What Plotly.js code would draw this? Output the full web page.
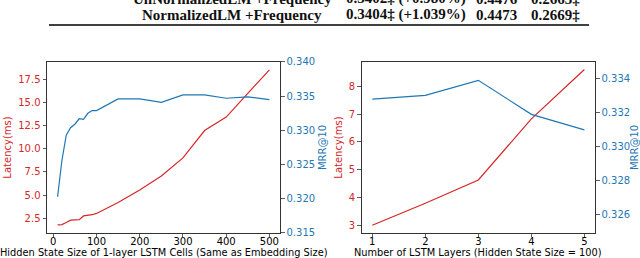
<!DOCTYPE html>
<html>
<head>
<meta charset="utf-8">
<script src="https://cdn.plot.ly/plotly-3.0.1.min.js"></script>
<style>html,body{margin:0;padding:0;background:#fff;}#chart{width:640px;height:258px;}</style>
</head>
<body>
<div id="chart"></div>
<script>
// Left panel: hidden state size
const hiddenSize = [10, 20, 30, 40, 50, 60, 70, 80, 90, 100, 150, 200, 250, 300, 350, 400, 450, 500];
const latencyHidden = [1.78, 1.82, 2.05, 2.3, 2.33, 2.35, 2.75, 2.78, 2.88, 3.02, 4.2, 5.55, 7.05, 9.0, 11.95, 13.4, 16.0, 18.5];
const mrrHidden = [0.3203, 0.3256, 0.3293, 0.3304, 0.3309, 0.3317, 0.3316, 0.3325, 0.3329, 0.3329, 0.3346, 0.3346, 0.3341, 0.3352, 0.3352, 0.3347, 0.3349, 0.3345];
// Right panel: number of layers
const numLayers = [1, 2, 3, 4, 5];
const latencyLayers = [3.0, 3.79, 4.63, 6.83, 8.61];
const mrrLayers = [0.33282, 0.33304, 0.33392, 0.33192, 0.33101];
// Table fragment
const tableRows = [
  ["UnNormalizedLM +Frequency", "0.3402‡ (+0.980%)", "0.4476", "0.2663‡"],
  ["NormalizedLM +Frequency", "0.3404‡ (+1.039%)", "0.4473", "0.2669‡"]
];
const latTicksL = [2.5, 5.0, 7.5, 10.0, 12.5, 15.0, 17.5];
const mrrTicksL = [0.315, 0.320, 0.325, 0.330, 0.335, 0.340];
const latTicksR = [3, 4, 5, 6, 7, 8];
const mrrTicksR = [0.326, 0.328, 0.330, 0.332, 0.334];
const xTitleL = 'Hidden State Size of 1-layer LSTM Cells (Same as Embedding Size)';
const xTitleR = 'Number of LSTM Layers (Hidden State Size = 100)';

const RED = '#d62728', BLUE = '#1f77b4';
const F = 'DejaVu Sans, sans-serif';

const traces = [
  {x: hiddenSize, y: latencyHidden, xaxis: 'x', yaxis: 'y', mode: 'lines', line: {color: RED, width: 1.2}},
  {x: hiddenSize, y: mrrHidden, xaxis: 'x', yaxis: 'y2', mode: 'lines', line: {color: BLUE, width: 1.2}},
  {x: numLayers, y: latencyLayers, xaxis: 'x2', yaxis: 'y3', mode: 'lines', line: {color: RED, width: 1.2}},
  {x: numLayers, y: mrrLayers, xaxis: 'x2', yaxis: 'y4', mode: 'lines', line: {color: BLUE, width: 1.2}}
];

const yDom = [0.0969, 0.7597];
const axBase = {showgrid: false, zeroline: false, showline: true, linecolor: '#333', linewidth: 1,
  ticks: 'outside', ticklen: 3.5, tickwidth: 0.8, tickcolor: '#333', automargin: false};

const annotations = [];
const colX = [232, 405.5, 496.5, 555.5];
const rowY = [-1, 15];
tableRows.forEach((row, ri) => {
  row.forEach((cell, ci) => {
    annotations.push({text: cell, xref: 'paper', yref: 'paper', x: colX[ci] / 640, y: 1 - rowY[ri] / 258,
      xanchor: 'center', yanchor: 'middle', showarrow: false,
      font: {family: 'Liberation Serif, serif', size: 15, color: '#111', weight: 'bold'}});
  });
});
// x-axis titles
annotations.push({text: xTitleL, xref: 'paper', yref: 'paper', x: 163.5 / 640, y: 1 - 252 / 258,
  xanchor: 'center', yanchor: 'middle', showarrow: false, font: {family: F, size: 9.8, color: '#000'}});
annotations.push({text: xTitleR, xref: 'paper', yref: 'paper', x: 478 / 640, y: 1 - 252 / 258,
  xanchor: 'center', yanchor: 'middle', showarrow: false, font: {family: F, size: 9.8, color: '#000'}});

const layout = {
  width: 640, height: 258, margin: {l: 0, r: 0, t: 0, b: 0},
  paper_bgcolor: '#fff', plot_bgcolor: '#fff', showlegend: false,
  font: {family: F, size: 10, color: '#000'},
  xaxis: Object.assign({}, axBase, {domain: [47/640, 280/640], anchor: 'y', range: [-14.5, 524.5],
    tickvals: [0, 100, 200, 300, 400, 500], mirror: true, ticklabelstandoff: -4}),
  yaxis: Object.assign({}, axBase, {domain: yDom, anchor: 'x', range: [0.91, 19.34], tickvals: latTicksL,
    ticktext: latTicksL.map(v => v.toFixed(1)), tickfont: {color: RED},
    title: {text: 'Latency(ms)', font: {color: RED, size: 10, family: F}, standoff: 4}}),
  yaxis2: Object.assign({}, axBase, {domain: yDom, anchor: 'x', overlaying: 'y', side: 'right', range: [0.315, 0.340],
    tickvals: mrrTicksL, ticktext: mrrTicksL.map(v => v.toFixed(3)), tickfont: {color: BLUE},
    title: {text: 'MRR@10', font: {color: BLUE, size: 10, family: F}, standoff: 4}}),
  xaxis2: Object.assign({}, axBase, {domain: [361.7/640, 595/640], anchor: 'y3', range: [0.8, 5.2],
    tickvals: numLayers, mirror: true, ticklabelstandoff: -4}),
  yaxis3: Object.assign({}, axBase, {domain: yDom, anchor: 'x2', range: [2.72, 8.88], tickvals: latTicksR,
    tickfont: {color: RED},
    title: {text: 'Latency(ms)', font: {color: RED, size: 10, family: F}, standoff: 4}}),
  yaxis4: Object.assign({}, axBase, {domain: yDom, anchor: 'x2', overlaying: 'y3', side: 'right', range: [0.32494, 0.335],
    tickvals: mrrTicksR, ticktext: mrrTicksR.map(v => v.toFixed(3)), tickfont: {color: BLUE},
    title: {text: 'MRR@10', font: {color: BLUE, size: 10, family: F}, standoff: 4}}),
  shapes: [{type: 'line', xref: 'paper', yref: 'paper', x0: 49/640, x1: 589/640, y0: 1 - 25/258, y1: 1 - 25/258,
    line: {color: '#000', width: 1.5}}],
  annotations: annotations
};

Plotly.newPlot('chart', traces, layout, {staticPlot: true});
</script>
</body>
</html>
